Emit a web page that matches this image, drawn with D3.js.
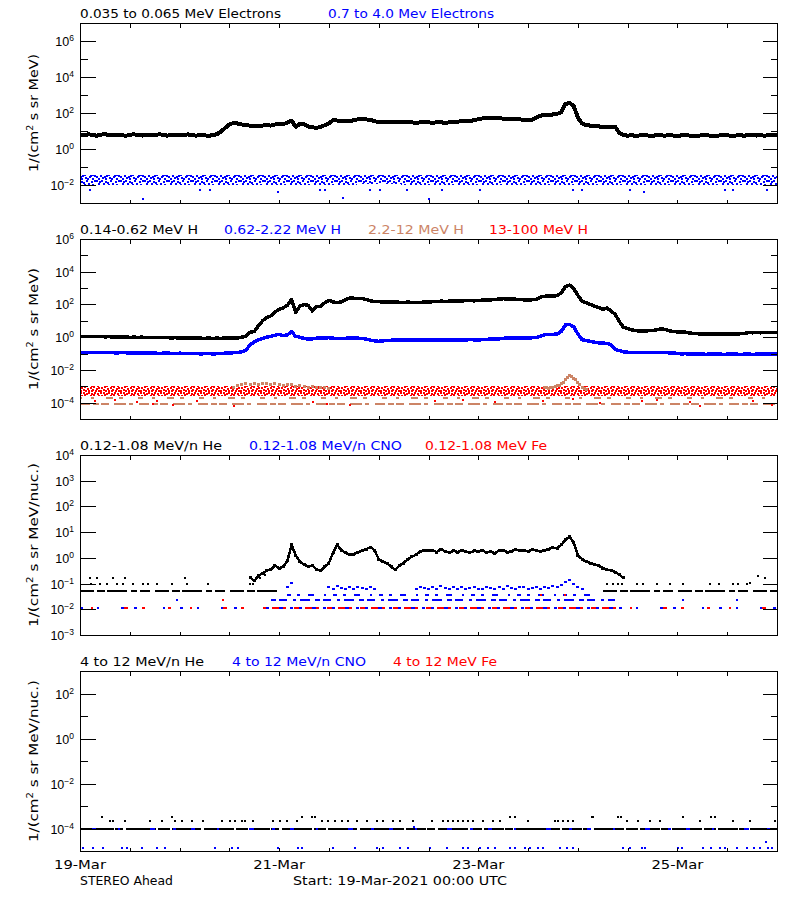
<!DOCTYPE html>
<html><head><meta charset="utf-8">
<script src="https://cdn.jsdelivr.net/npm/d3@7/dist/d3.min.js"></script>
<style>html,body{margin:0;padding:0;background:#fff;} svg{display:block;}</style>
</head><body>
<svg id="chart" width="800" height="900"></svg>
<script>
// ================= DATA =================
const startTime = Date.UTC(2021, 2, 19, 0, 0);
const endTime = Date.UTC(2021, 2, 26, 0, 0);
const dateTickLabels = ["19-Mar", "21-Mar", "23-Mar", "25-Mar"];
const footerLeft = "STEREO Ahead";
const footerStart = "Start: 19-Mar-2021 00:00 UTC";
const panel1Titles = ["0.035 to 0.065 MeV Electrons", "0.7 to 4.0 Mev Electrons"];
const panel2Titles = ["0.14-0.62 MeV H", "0.62-2.22 MeV H", "2.2-12 MeV H", "13-100 MeV H"];
const panel3Titles = ["0.12-1.08 MeV/n He", "0.12-1.08 MeV/n CNO", "0.12-1.08 MeV Fe"];
const panel4Titles = ["4 to 12 MeV/n He", "4 to 12 MeV/n CNO", "4 to 12 MeV Fe"];
const yTitleA = ["1/(cm", "2", " s sr MeV)"];
const yTitleB = ["1/(cm", "2", " s sr MeV/nuc.)"];

// hourly sample times (hours after start), 0..168
const hourlyHours = d3.range(0, 169);

// Panel 1: 0.035-0.065 MeV electrons (hourly)
const electronLowFlux = [
 6.3,5.6,6.6,6.0,5.5,6.2,6.8,5.9,5.8,6.3, 6.0,5.4,6.2,6.5,5.9,5.6,6.3,6.0,5.8,6.6, 6.2,5.5,5.9,6.3,6.0,5.8,6.5,5.9,5.5,6.0, 5.8,5.4,5.9,
 6.6,9.5,15,23,28,26,23,21,20,19.5, 19,20,21,20,23,25,24,29,38,17, 25,24,18,16,15,17,21,26,
 40,38,35,35,34,40,45,46,44,42, 35,32,31,32,30,32,30,30,31,30, 29,30,32,30,29,30,30,29,30,32,
 33,35,35,36,40,45,50,52,54,56, 52,48,46,48,47,44,42,40,42,56, 71,79,76,83,89,112,316,363,240,56, 26,21,20,19,18,17,16,17,17,7.9,
 6.0,5.5,5.9,5.2,5.8,6.2,5.6,5.4,5.9,5.8, 5.5,6.0,5.6,5.2,5.8,5.9,5.5,5.6,5.4,5.9, 5.8,5.5,5.2,5.6,6.0,5.8,5.4,5.6,5.9,5.5, 5.8,6.2,5.6,5.9,5.5,5.8,6.0,5.6
];
// Panel 1: 0.7-4.0 MeV electrons, noisy background band (daily envelope)
const electronHighBandHours = [0, 24, 48, 72, 96, 120, 144, 168];
const electronHighBandLo = [0.0105, 0.0106, 0.0105, 0.0107, 0.0105, 0.0106, 0.0105, 0.0106];
const electronHighBandHi = [0.034, 0.035, 0.034, 0.035, 0.036, 0.035, 0.034, 0.035];
const electronHighOutliers = [[2.4,0.0055],[15.3,0.0017],[28.9,0.0055],[31.3,0.0055],[47.8,0.004],[57.8,0.0055],[59,0.0055],[63.4,0.0018],[69.9,0.0055],[72.3,0.0055],[78.8,0.0055],[84,0.0017],[87.2,0.0055],[96.4,0.0055],[118.8,0.0055],[121,0.0055],[132.6,0.0055],[136,0.004],[155.5,0.0055],[157.4,0.0055],[165.6,0.0055]];

// Panel 2: protons (hourly)
const protonLowFlux = [
 1.15,1.12,1.10,1.12,1.07,1.10,1.05,1.07,1.02,1.05, 1.00,1.02,0.98,1.00,0.98,1.00,0.95,0.98,0.95,0.93, 0.95,0.93,0.91,0.93,0.89,0.91,0.89,0.87,0.89,0.87, 0.85,0.87,0.85,0.87,0.85,0.89,0.87,0.91,0.89,1.00, 1.12,
 2.0,2.2,5.0,10,16,20,35,50,63,89, 200,32,79,100,89,40,71,79,126,178, 141,132,141,200,240,240,229,234,200,166, 151,148,141,145,138,141,135,132,138,135,
 132,135,138,141,148,151,158,155,158,162, 158,166,170,174,166,178,182,186,191,200, 214,224,219,214,209,200,191,186,195,200, 282,316,331,316,355,501,1259,1514,933,363,
 158,126,100,79,66,50,60,40,25,8.9, 4.0,3.3,2.8,2.5,2.4,2.3,2.5,2.5,2.8,3.2, 3.0,2.5,2.2,2.1,2.1,2.0,1.8,1.66,1.62,1.58, 1.55,1.58,1.51,1.55,1.58,1.55,1.51,1.58,1.62,1.66, 1.9,1.86,1.9,1.86,1.9,1.95,1.9,1.9
];
const protonMidFlux = [
 0.120,0.117,0.120,0.115,0.117,0.112,0.115,0.117,0.112,0.110, 0.115,0.112,0.107,0.110,0.112,0.107,0.105,0.110,0.107,0.102, 0.105,0.107,0.102,0.100,0.105,0.102,0.098,0.100,0.102,0.095, 0.098,0.100,0.095,0.098,0.100,0.105,0.107,0.112,0.117,0.126,
 0.158,0.355,0.50,0.71,0.83,1.0,1.12,1.32,1.48,1.26, 1.41,2.14,1.12,1.0,0.83,0.76,0.79,0.87,0.91,0.89, 0.93,0.87,0.83,0.81,0.85,0.89,0.91,0.87,0.83,0.76, 0.66,0.59,0.56,0.60,0.63,0.65,0.66,0.66,0.65,0.68,
 0.66,0.65,0.68,0.66,0.65,0.68,0.69,0.66,0.68,0.69, 0.66,0.68,0.69,0.68,0.71,0.69,0.68,0.71,0.74,0.76, 0.76,0.79,0.85,0.89,0.91,0.91,0.89,0.91,0.89,0.93, 0.95,1.12,1.41,1.51,1.48,1.58,2.24,5.6,6.0,4.3,
 1.58,0.71,0.63,0.56,0.50,0.45,0.43,0.42,0.35,0.178, 0.151,0.126,0.120,0.117,0.120,0.115,0.117,0.120,0.115,0.112, 0.117,0.115,0.110,0.112,0.100,0.095,0.098,0.093,0.095,0.091, 0.093,0.089,0.095,0.091,0.093,0.089,0.091,0.095,0.093,0.089, 0.091,0.093,0.089,0.091,0.095,0.093,0.091,0.093,0.093
];
// 2.2-12 MeV H: quantized background levels and enhanced points
const protonHighLevelA = 1.86e-4;
const protonHighLevelB = 8.5e-5;
const protonHighEventHours = [37,38,39,40,41,42,43,44,45,46,47,48,49,50,51,52,53,54,55,56,57,58,59,60,
 112,112.5,113,113.5,114,114.5,115,115.5,116,116.5,117,117.5,118,118.5,119,119.5,120,120.5,121,121.5,122];
const protonHighEventFlux = [8.9e-4,1.12e-3,1.26e-3,1.41e-3,1.26e-3,1.51e-3,1.32e-3,1.41e-3,1.58e-3,1.26e-3,1.41e-3,1.26e-3,1.12e-3,1.32e-3,1.2e-3,1.0e-3,1.12e-3,1.0e-3,8.9e-4,1.0e-3,7.9e-4,8.9e-4,7.9e-4,7.6e-4,
 7.9e-4,8.9e-4,7.1e-4,7.9e-4,8.9e-4,1.0e-3,1.05e-3,1.12e-3,1.41e-3,1.78e-3,2.5e-3,3.5e-3,4.5e-3,4.0e-3,3.2e-3,2.5e-3,1.78e-3,1.26e-3,8.9e-4,7.1e-4,6.3e-4];
// 13-100 MeV H: noisy background band (daily envelope) + low outliers
const protonTopBandHours = [0, 24, 48, 72, 96, 120, 144, 168];
const protonTopBandLo = [2.6e-4, 2.6e-4, 2.5e-4, 2.6e-4, 2.6e-4, 2.5e-4, 2.6e-4, 2.6e-4];
const protonTopBandHi = [1.0e-3, 1.0e-3, 1.05e-3, 1.0e-3, 1.0e-3, 1.05e-3, 1.0e-3, 1.0e-3];
const protonTopOutliers = [[3.6,1.2e-4],[8.4,1.5e-4],[13.7,1.1e-4],[17.6,8e-5],[18.5,1.3e-4],[22.5,7e-5],[28.1,1.2e-4],[37,6.5e-5],[56.2,1.1e-4],[59.5,8e-5],[65.1,7e-5],[85.6,1.2e-4],[92.4,1.4e-4],[100,1.1e-4],[111.7,1.3e-4],[118.9,1.6e-4],[125.3,9e-5],[135.4,1.2e-4],[139,1.4e-4],[147,1.1e-4],[149.4,6.5e-5],[162.3,1.2e-4],[166.7,7e-5]];

// Panel 3: 0.12-1.08 MeV/n ions
const heliumEventHours = d3.range(41, 132);
const heliumEventFlux = [
 0.178,0.126,0.20,0.25,0.32,0.35,0.50,0.40,0.45,0.79,
 3.2,1.26,0.71,0.56,0.45,0.50,0.35,0.32,0.45,0.63,
 1.58,3.2,2.0,1.58,1.32,1.41,1.66,1.9,2.2,2.6,
 2.0,0.89,0.71,0.63,0.45,0.35,0.50,0.63,0.89,1.12,
 1.32,1.78,2.0,1.9,2.0,1.66,2.2,1.78,1.58,1.9,
 1.66,2.0,1.78,1.58,1.86,1.74,2.0,1.58,1.78,1.51,
 1.9,2.0,1.66,1.82,2.1,1.9,2.0,1.78,2.1,1.9,
 1.78,2.0,2.2,2.5,2.4,3.2,5.0,6.6,4.0,1.26,
 0.89,0.71,0.63,0.56,0.50,0.40,0.35,0.32,0.28,0.22,
 0.166
];
const heliumLevel = 0.053;
const heliumLevelSpans = [[0, 48.5], [126, 168]];
const heliumSparse = [[2.4,0.16],[2.6,0.10],[4.0,0.16],[4.8,0.10],[6.4,0.10],[8.0,0.16],[8.8,0.10],[10.4,0.10],[10.8,0.16],[12.8,0.10],[15.3,0.10],[16.5,0.10],[18.5,0.10],[22.1,0.10],[25.3,0.16],[25.7,0.10],[30.9,0.10],[41,0.10],[41.7,0.10],[43.4,0.16],[44.6,0.22],[127,0.10],[128.5,0.10],[129.7,0.10],[130.6,0.10],[134.2,0.10],[135.8,0.10],[139,0.10],[142.2,0.10],[145.4,0.10],[151.8,0.10],[153.9,0.10],[157.5,0.10],[158.7,0.10],[160.7,0.10],[161.5,0.11],[163.5,0.20],[165.1,0.16]];
const ionLowLevel = 0.0112;
const ionQuietSpans = [[0, 44], [130, 168]];
const ionEventSpans = [[44, 130]];
const cnoMidLevel = 0.023;
const cnoMidSpans = [[46, 129]];
const cnoHighLevel = 0.035;
const cnoHighSpans = [[50, 123]];
const cnoSparse = [[23.3,0.023],[145.4,0.023],[158.4,0.023]];
const cnoEventPoints = [[50,0.071],[51,0.105],[60,0.071],[61,0.063],[62,0.079],[63,0.066],[64,0.063],[65,0.071],[66,0.060],[67,0.076],[68,0.066],[69,0.063],[70,0.071],[71,0.060],[81,0.063],[82,0.076],[83,0.066],[84,0.060],[85,0.071],[86,0.063],[87,0.079],[88,0.066],[89,0.063],[90,0.071],[91,0.060],[92,0.076],[93,0.063],[94,0.066],[95,0.071],[96,0.060],[97,0.063],[98,0.076],[99,0.066],[100,0.063],[101,0.071],[102,0.060],[103,0.079],[104,0.066],[105,0.063],[106,0.071],[107,0.076],[108,0.063],[109,0.066],[110,0.071],[111,0.063],[112,0.076],[113,0.066],[114,0.079],[115,0.071],[116,0.089],[117,0.12],[118,0.132],[119,0.10],[120,0.071],[121,0.063]];
const feSparse = [[34.5,0.023],[111,0.035],[117,0.035]];

// Panel 4: 4-12 MeV/n ions
const p4Level = 1.0e-4;
const p4LevelSpans = [[0, 168]];
const p4HeliumSparse = [[5.2,3.2e-4],[7.2,2.2e-4],[8.0,2.2e-4],[10.8,2.2e-4],[16.9,2.2e-4],[19.7,2.2e-4],[22.2,3.2e-4],[22.9,2.2e-4],[24.7,2.2e-4],[26.9,2.2e-4],[29.7,2.2e-4],[34.2,2.2e-4],[36.2,2.2e-4],[37.4,2.2e-4],[39,2.2e-4],[39.8,2.2e-4],[41.8,2.2e-4],[46.6,2.2e-4],[48.2,2.2e-4],[49.8,2.2e-4],[52.2,2.2e-4],[53.4,3.2e-4],[55.8,3.2e-4],[56.6,3.2e-4],[58.3,2.2e-4],[59.8,2.2e-4],[61.5,2.2e-4],[63.1,2.2e-4],[64.7,2.2e-4],[66.7,2.2e-4],[69.1,2.2e-4],[71.5,2.2e-4],[73.1,2.2e-4],[75.5,2.2e-4],[77.1,2.2e-4],[80.3,2.2e-4],[84.8,2.2e-4],[87.6,2.2e-4],[88.8,2.2e-4],[90,2.2e-4],[91.2,2.2e-4],[92.4,2.2e-4],[93.6,2.2e-4],[94.8,2.2e-4],[97.2,2.2e-4],[99.6,2.2e-4],[101.2,2.2e-4],[103.6,3.2e-4],[104.8,3.2e-4],[108.1,2.2e-4],[114.5,2.2e-4],[115.3,2.2e-4],[116.5,2.2e-4],[117.7,2.2e-4],[118.9,2.2e-4],[123.3,3.2e-4],[123.7,3.2e-4],[129.7,3.2e-4],[130.5,3.2e-4],[131.8,2.2e-4],[134.6,2.2e-4],[137.4,2.2e-4],[139.8,2.2e-4],[145.4,3.2e-4],[149.4,2.2e-4],[152.2,3.2e-4],[153,3.2e-4],[157.5,2.2e-4],[161.5,2.2e-4],[167.5,2.2e-4]];
const p4CnoSparse = [[0.8,1.3e-5],[3.2,1.3e-5],[5.6,1.3e-5],[10.1,1.3e-5],[11.3,1.3e-5],[14.9,1.3e-5],[18.5,1.3e-5],[20.5,1.3e-5],[32.5,1.3e-5],[36.6,1.3e-5],[38.2,1.3e-5],[47.8,1.3e-5],[52.6,1.3e-5],[53.4,1.3e-5],[61.1,1.3e-5],[66.3,1.3e-5],[71.5,1.3e-5],[73.1,1.3e-5],[77.1,1.3e-5],[79.1,1.3e-5],[84.4,1.3e-5],[88.4,1.3e-5],[92.4,1.3e-5],[93.6,1.3e-5],[96.4,1.3e-5],[98.4,1.3e-5],[100,1.3e-5],[103.6,1.3e-5],[104.8,1.3e-5],[107.3,1.3e-5],[108.5,1.3e-5],[110.5,1.3e-5],[111.7,1.3e-5],[115.7,1.3e-5],[117.5,1.3e-5],[118.9,1.3e-5],[131,1.3e-5],[132.6,1.3e-5],[135.4,1.3e-5],[136.2,1.3e-5],[144.2,1.3e-5],[145,1.3e-5],[150.2,1.3e-5],[152.2,1.3e-5],[154.3,1.3e-5],[155.5,1.3e-5],[158.3,1.3e-5],[160.7,1.3e-5],[162.5,1.3e-5],[163.9,1.3e-5],[165.4,2.6e-5],[165.9,1.3e-5],[166.7,1.3e-5]];
const p4CnoAbove = [[80.5,1.2e-4]];

// ================= LAYOUT / STYLE =================
const BLACK = "#000000", BLUE = "#0000ff", RED = "#ff0000", BROWN = "#cc8466";
const X0 = 80, X1 = 777, PH = 180;
const svg = d3.select("#chart").attr("font-family", "DejaVu Sans, sans-serif");
const defs = svg.append("defs");
svg.append("rect").attr("width", 800).attr("height", 900).attr("fill", "#fff");

const x = d3.scaleUtc().domain([new Date(startTime), new Date(endTime)]).range([X0, X1]);
const tx = h => x(new Date(startTime + h * 3600e3));
const tick12 = d3.utcHour.every(12).range(new Date(startTime), new Date(endTime + 1));

// speckle patterns (texture for noisy bands)
function speckle(id, color, w, h, cells) {
  const p = defs.append("pattern").attr("id", id).attr("patternUnits", "userSpaceOnUse")
    .attr("width", w).attr("height", h);
  cells.forEach(c => p.append("rect").attr("x", c[0]).attr("y", c[1]).attr("width", 2).attr("height", 2).attr("fill", color));
}
speckle("spBlue", BLUE, 24, 10, [[0,0],[5,0],[9,1],[14,0],[19,1],[22,0],[3,1],[2,3],[7,3],[12,4],[16,3],[20,4],[4,5],[10,5],[17,6],[22,5],[0,6],[6,7],[13,7],[20,8],[2,8],[9,8],[15,8],[8,6],[11,2],[18,5]]);
speckle("spRed", RED, 20, 8, [[0,0],[3,0],[6,1],[8,0],[11,1],[14,0],[17,1],[1,3],[4,2],[7,4],[10,3],[13,2],[16,4],[18,3],[0,6],[3,5],[5,6],[8,6],[12,5],[15,6],[18,6],[11,6]]);

function drawLine(g, y, hours, vals, color, width) {
  g.append("path").datum(hours.map((h, i) => [h, vals[i]]))
    .attr("fill", "none").attr("stroke", color).attr("stroke-width", width)
    .attr("stroke-linejoin", "round").attr("stroke-linecap", "square")
    .attr("d", d3.line().x(d => tx(d[0])).y(d => y(d[1])));
}
function drawPoints(g, y, pts, color, w, h) {
  g.append("g").selectAll("rect").data(pts).join("rect")
    .attr("x", d => Math.round(tx(d[0]) - w / 2)).attr("y", d => Math.round(y(d[1]) - h / 2))
    .attr("width", w).attr("height", h).attr("fill", color);
}
function drawBand(g, y, hours, lo, hi, pat) {
  g.append("path").datum(hours.map((h, i) => [h, lo[i], hi[i]]))
    .attr("fill", `url(#${pat})`)
    .attr("d", d3.area().x(d => tx(d[0])).y0(d => y(d[1])).y1(d => y(d[2])));
}
function drawLevel(g, y, spans, value, color, dash, width, offset) {
  spans.forEach(s => g.append("line")
    .attr("x1", tx(s[0])).attr("x2", tx(s[1]))
    .attr("y1", Math.round(y(value))).attr("y2", Math.round(y(value)))
    .attr("stroke", color).attr("stroke-width", width)
    .attr("stroke-dasharray", dash).attr("stroke-dashoffset", offset || 0));
}

function supText(sel, v) {
  const e = Math.round(Math.log10(v));
  sel.append("tspan").text("10");
  sel.append("tspan").attr("dy", -5).attr("font-size", 8.5).text(e < 0 ? "\u2212" + (-e) : String(e));
}

function panel(cfg) {
  const top = cfg.top, bottom = top + PH;
  const y = d3.scaleLog().domain(cfg.domain).range([bottom, top]);
  const clipId = "clip" + cfg.id;
  defs.append("clipPath").attr("id", clipId).append("rect")
    .attr("x", X0).attr("y", top).attr("width", X1 - X0).attr("height", PH);
  const plot = svg.append("g").attr("clip-path", `url(#${clipId})`).attr("shape-rendering", "crispEdges");
  cfg.draw(plot, y);

  const ax = svg.append("g").attr("shape-rendering", "crispEdges");
  ax.append("rect").attr("x", X0 + 0.5).attr("y", top + 0.5).attr("width", X1 - X0).attr("height", PH)
    .attr("fill", "none").attr("stroke", BLACK).attr("stroke-width", 1);
  const axisStyle = g => { g.select(".domain").remove(); g.selectAll("line").attr("stroke", BLACK); g.selectAll("text").remove(); };
  ax.append("g").attr("transform", `translate(${X0 + 0.5},0)`).call(d3.axisLeft(y).tickValues(cfg.majors).tickSize(-15)).call(axisStyle);
  ax.append("g").attr("transform", `translate(${X1 + 0.5},0)`).call(d3.axisRight(y).tickValues(cfg.majors).tickSize(-15)).call(axisStyle);
  if (cfg.minors.length) {
    ax.append("g").attr("transform", `translate(${X0 + 0.5},0)`).call(d3.axisLeft(y).tickValues(cfg.minors).tickSize(-7)).call(axisStyle);
    ax.append("g").attr("transform", `translate(${X1 + 0.5},0)`).call(d3.axisRight(y).tickValues(cfg.minors).tickSize(-7)).call(axisStyle);
  }
  ax.append("g").attr("transform", `translate(0,${bottom + 0.5})`).call(d3.axisBottom(x).tickValues(tick12).tickSize(-4)).call(axisStyle);
  ax.append("g").attr("transform", `translate(0,${top + 0.5})`).call(d3.axisTop(x).tickValues(tick12).tickSize(-4)).call(axisStyle);

  // y tick labels
  cfg.majors.forEach(v => {
    const t = svg.append("text").attr("x", 74).attr("y", Math.round(y(v)) + 5)
      .attr("text-anchor", "end").attr("font-family", "Liberation Sans, Arial, sans-serif").attr("font-size", 12.5);
    supText(t, v);
  });
  // y title
  const yt = svg.append("text").attr("transform", `translate(38,${top + PH / 2}) rotate(-90)`)
    .attr("text-anchor", "middle").attr("font-size", 12)
    .attr("textLength", cfg.yTitleLen).attr("lengthAdjust", "spacingAndGlyphs");
  yt.append("tspan").text(cfg.yTitle[0]);
  yt.append("tspan").attr("dy", -5).attr("font-size", 8).text(cfg.yTitle[1]);
  yt.append("tspan").attr("dy", 5).text(cfg.yTitle[2]);
  // titles
  cfg.titles.forEach((txt, i) => {
    svg.append("text").attr("x", cfg.titleX[i]).attr("y", top - 5).attr("fill", cfg.titleColors[i])
      .attr("font-size", 12).attr("textLength", cfg.titleLen[i]).attr("lengthAdjust", "spacingAndGlyphs").text(txt);
  });
}

// ---------- Panel 1 ----------
panel({
  id: 1, top: 23, domain: [1e-3, 1e7],
  majors: [1e-2, 1e0, 1e2, 1e4, 1e6], minors: [1e-1, 1e1, 1e3, 1e5],
  titles: panel1Titles, titleColors: [BLACK, BLUE], titleX: [80, 328], titleLen: [201, 166],
  yTitle: yTitleA, yTitleLen: 118,
  draw: (g, y) => {
    drawBand(g, y, electronHighBandHours, electronHighBandLo, electronHighBandHi, "spBlue");
    drawPoints(g, y, electronHighOutliers, BLUE, 2, 2);
    drawLine(g, y, hourlyHours, electronLowFlux, BLACK, 4);
  }
});

// ---------- Panel 2 ----------
panel({
  id: 2, top: 239, domain: [1e-5, 1e6],
  majors: [1e-4, 1e-2, 1e0, 1e2, 1e4, 1e6], minors: [1e-3, 1e-1, 1e1, 1e3, 1e5],
  titles: panel2Titles, titleColors: [BLACK, BLUE, BROWN, RED], titleX: [80, 224, 368, 489], titleLen: [118, 117, 96, 99],
  yTitle: yTitleA, yTitleLen: 122,
  draw: (g, y) => {
    drawLevel(g, y, [[0, 168]], protonHighLevelB, BROWN, "10,3,6,2,8,5,12,3,4,6", 2);
    drawLevel(g, y, [[0, 168]], protonHighLevelA, BROWN, "5,9,3,12,7,6,4,15", 2, 3);
    drawBand(g, y, protonTopBandHours, protonTopBandLo, protonTopBandHi, "spRed");
    drawPoints(g, y, protonHighEventHours.map((h, i) => [h, protonHighEventFlux[i]]), BROWN, 3, 3);
    drawPoints(g, y, protonTopOutliers, RED, 2, 2);
    drawLine(g, y, hourlyHours, protonMidFlux, BLUE, 3.5);
    drawLine(g, y, hourlyHours, protonLowFlux, BLACK, 3.5);
  }
});

// ---------- Panel 3 ----------
panel({
  id: 3, top: 455, domain: [1e-3, 1e4],
  majors: [1e-3, 1e-2, 1e-1, 1e0, 1e1, 1e2, 1e3, 1e4], minors: [],
  titles: panel3Titles, titleColors: [BLACK, BLUE, RED], titleX: [80, 249, 425], titleLen: [142, 153, 122],
  yTitle: yTitleB, yTitleLen: 164,
  draw: (g, y) => {
    drawLevel(g, y, ionQuietSpans, ionLowLevel, BLUE, "3,14,2,22,4,9,3,26,2,15", 2);
    drawLevel(g, y, ionQuietSpans, ionLowLevel, RED, "3,19,2,31,4,14,3,23", 2, 11);
    drawLevel(g, y, ionEventSpans, ionLowLevel, BLUE, "6,3,4,2,8,4,3,3", 2);
    drawLevel(g, y, ionEventSpans, ionLowLevel, RED, "5,6,7,4,3,8", 2, 2);
    drawLevel(g, y, cnoMidSpans, cnoMidLevel, BLUE, "5,3,8,6,3,4,10,5", 2);
    drawLevel(g, y, cnoHighSpans, cnoHighLevel, BLUE, "4,6,3,8,6,10,2,7", 2);
    drawPoints(g, y, cnoSparse, BLUE, 2, 2);
    drawPoints(g, y, feSparse, RED, 2, 2);
    drawPoints(g, y, cnoEventPoints, BLUE, 3, 2);
    drawLevel(g, y, heliumLevelSpans, heliumLevel, BLACK, "14,3,8,2,20,4,6,3,10,5", 2);
    drawPoints(g, y, heliumSparse, BLACK, 2, 2);
    drawLine(g, y, heliumEventHours, heliumEventFlux, BLACK, 2.5);
    drawPoints(g, y, heliumEventHours.map((h, i) => [h, heliumEventFlux[i]]), BLACK, 3, 3);
  }
});

// ---------- Panel 4 ----------
panel({
  id: 4, top: 671, domain: [1e-5, 1e3],
  majors: [1e-4, 1e-2, 1e0, 1e2], minors: [1e-3, 1e-1, 1e1],
  titles: panel4Titles, titleColors: [BLACK, BLUE, RED], titleX: [80, 232, 393], titleLen: [124, 134, 104],
  yTitle: yTitleB, yTitleLen: 162,
  draw: (g, y) => {
    drawLevel(g, y, p4LevelSpans, p4Level, BLACK, "12,2,20,1,8,3,30,2", 2);
    drawLevel(g, y, p4LevelSpans, p4Level, BLUE, "3,15,4,22,2,30,5,18", 2, 6);
    drawPoints(g, y, p4HeliumSparse, BLACK, 2, 2);
    drawPoints(g, y, p4CnoSparse, BLUE, 2, 2);
    drawPoints(g, y, p4CnoAbove, BLUE, 2, 2);
  }
});

// ---------- bottom axis labels ----------
const labelTicks = d3.utcDay.every(2).range(new Date(startTime), new Date(endTime));
svg.selectAll("text.xl").data(labelTicks).join("text").attr("class", "xl")
  .attr("x", d => x(d)).attr("y", 869).attr("text-anchor", "middle").attr("font-size", 12)
  .attr("textLength", 52).attr("lengthAdjust", "spacingAndGlyphs")
  .text((d, i) => dateTickLabels[i]);
svg.append("text").attr("x", 80).attr("y", 885).attr("font-size", 12)
  .attr("textLength", 93).attr("lengthAdjust", "spacingAndGlyphs").text(footerLeft);
svg.append("text").attr("x", 293).attr("y", 885).attr("font-size", 12)
  .attr("textLength", 214).attr("lengthAdjust", "spacingAndGlyphs").text(footerStart);
</script>
</body></html>
